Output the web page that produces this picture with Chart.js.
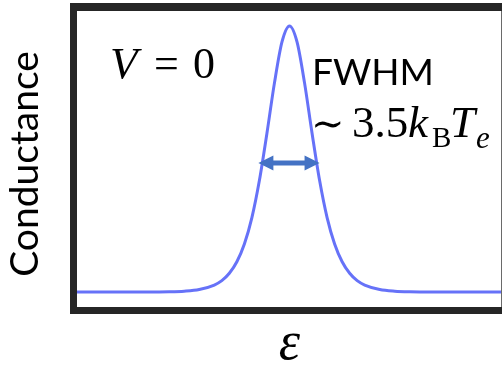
<!DOCTYPE html>
<html>
<head>
<meta charset="utf-8">
<script src="https://cdn.jsdelivr.net/npm/chart.js@4.4.1/dist/chart.umd.min.js"></script>
<style>
  html, body { margin: 0; padding: 0; background: #fff; }
  #wrap { width: 502px; height: 372px; }
</style>
</head>
<body>
<div id="wrap"><canvas id="chart"></canvas></div>
<script>
// energy in units of kB*Te, conductance normalised to the peak
const epsilon = [-14.5, -12, -10, -8, -7, -6, -5, -4.5, -4, -3.5, -3, -2.5, -2, -1.5, -1, -0.5,
  0, 0.5, 1, 1.5, 2, 2.5, 3, 3.5, 4, 4.5, 5, 6, 7, 8, 10, 12, 14.5];
const conductance = [0, 0, 0.0002, 0.0013, 0.0036, 0.0099, 0.0266, 0.043, 0.0707, 0.114, 0.181, 0.28, 0.42, 0.597, 0.786, 0.94,
  1, 0.94, 0.786, 0.597, 0.42, 0.28, 0.181, 0.114, 0.0707, 0.043, 0.0266, 0.0099, 0.0036, 0.0013, 0.0002, 0, 0];

const lineColor = "#6672F8";
const frameColor = "#262626";
const arrowColor = "#4472C4";

// thick box around the plot area
const framePlugin = {
  id: "frame",
  afterDatasetsDraw(chart) {
    const { ctx, chartArea: a } = chart;
    ctx.save();
    ctx.fillStyle = frameColor;
    ctx.fillRect(a.left - 7, a.top - 8, a.right - a.left + 7, 8);   // top
    ctx.fillRect(a.left - 7, a.top - 8, 7, a.bottom - a.top + 15);   // left
    ctx.fillRect(a.left - 7, a.bottom, a.right - a.left + 7, 7);    // bottom
    ctx.fillStyle = "#6a6a6a";
    ctx.fillRect(a.right - 1, a.top, 1, a.bottom - a.top);          // right (cut off)
    ctx.restore();
  }
};

// text labels and the FWHM arrow
const notesPlugin = {
  id: "notes",
  afterDraw(chart) {
    const { ctx } = chart;
    const xs = chart.scales.x;
    const ys = chart.scales.y;
    ctx.save();
    ctx.fillStyle = "#000";
    ctx.textBaseline = "alphabetic";
    ctx.textAlign = "left";

    ctx.font = "italic 45px 'Liberation Serif'";
    ctx.fillText("V", 110, 78);
    ctx.font = "44px 'Liberation Serif'";
    ctx.fillText("=", 154, 78);
    ctx.fillText("0", 193, 78);

    ctx.font = "37px Lato";
    ctx.fillText("FWHM", 312, 85);

    ctx.font = "40px 'DejaVu Serif'";
    ctx.fillText("\u223C", 311, 137);
    ctx.font = "45px 'Liberation Serif'";
    ctx.fillText("3.5", 352, 137);
    ctx.font = "italic 45px 'Liberation Serif'";
    ctx.fillText("k", 408, 137);
    ctx.font = "29px 'Liberation Serif'";
    ctx.fillText("B", 432, 147);
    ctx.font = "italic 45px 'Liberation Serif'";
    ctx.fillText("T", 450, 137);
    ctx.font = "italic 31px 'Liberation Serif'";
    ctx.fillText("e", 476, 148);

    // double arrow across the half maximum
    const xl = xs.getPixelForValue(-2.07);
    const xr = xs.getPixelForValue(2.0);
    const y = ys.getPixelForValue(0.485);
    const head = 15, half = 7.5;
    ctx.strokeStyle = arrowColor;
    ctx.fillStyle = arrowColor;
    ctx.lineWidth = 5;
    ctx.beginPath();
    ctx.moveTo(xl + head - 2, y);
    ctx.lineTo(xr - head + 2, y);
    ctx.stroke();
    ctx.beginPath();
    ctx.moveTo(xl, y);
    ctx.lineTo(xl + head, y - half);
    ctx.lineTo(xl + head, y + half);
    ctx.closePath();
    ctx.fill();
    ctx.beginPath();
    ctx.moveTo(xr, y);
    ctx.lineTo(xr - head, y - half);
    ctx.lineTo(xr - head, y + half);
    ctx.closePath();
    ctx.fill();
    ctx.restore();
  }
};

new Chart(document.getElementById("chart"), {
  type: "line",
  data: {
    datasets: [{
      data: epsilon.map((e, i) => ({ x: e, y: conductance[i] })),
      borderColor: lineColor,
      borderWidth: 3,
      pointRadius: 0,
      cubicInterpolationMode: "monotone",
      fill: false,
    }],
  },
  options: {
    responsive: true,
    maintainAspectRatio: false,
    animation: false,
    layout: { padding: { top: 11, right: 0, left: 0, bottom: 0 } },
    plugins: { legend: { display: false }, tooltip: { enabled: false } },
    scales: {
      x: {
        type: "linear",
        min: -14.13,
        max: 14.13,
        grid: { display: false },
        border: { display: false },
        ticks: { display: false },
        title: {
          display: true,
          text: "\u03B5",
          color: "#000",
          font: { family: "'Liberation Serif'", size: 54, style: "italic", lineHeight: 1 },
          padding: { top: 0, bottom: 0 },
        },
        afterFit: (scale) => { scale.height = 65; },
      },
      y: {
        min: -0.056,
        max: 1.056,
        grid: { display: false },
        border: { display: false },
        ticks: { display: false },
        title: {
          display: true,
          text: "Conductance ",
          color: "#000",
          font: { family: "Lato", size: 39, lineHeight: 1.2 },
          padding: { top: 2, bottom: 0 },
        },
        afterFit: (scale) => { scale.width = 77; },
      },
    },
  },
  plugins: [framePlugin, notesPlugin],
});
</script>
</body>
</html>
